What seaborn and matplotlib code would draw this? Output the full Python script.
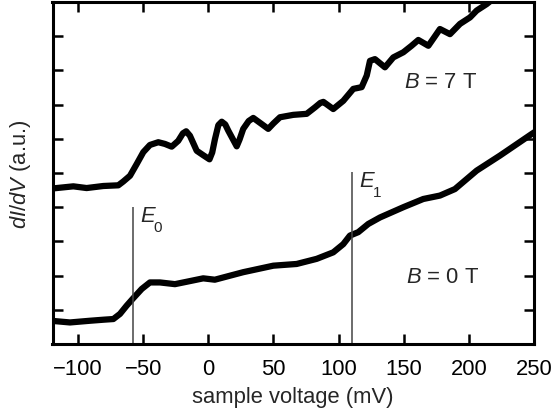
import numpy as np
import pandas as pd
import matplotlib
matplotlib.use("Agg")
import matplotlib.pyplot as plt
import seaborn as sns

# ---- data ----
x_7T = [-121.5, -103.6, -93.4, -80.6, -69.1, -65.3, -60.1, -55.0, -49.9, -44.8,
        -38.4, -33.3, -28.1, -23.1, -19.5, -17.0, -14.1, -8.9, -3.9, 0.9, 3.0, 5.1,
        7.7, 10.3, 13.0, 15.3, 21.8, 24.0, 26.8, 31.0, 34.5, 41.0, 46.0, 50.0, 55.0, 65.2,
        75.5, 81.9, 86.0, 88.3, 95.9, 103.6, 111.3, 117.7, 121.6, 124.1, 127.9,
        135.6, 142.0, 149.7, 156.0, 161.2, 168.9, 174.0, 177.8, 185.5, 193.2, 200.9, 206.0,
        213.7, 218.5]
y_7T = [4.54, 4.61, 4.56, 4.62, 4.64, 4.75, 4.92, 5.26, 5.61, 5.82,
        5.90, 5.85, 5.77, 5.94, 6.16, 6.22, 6.09, 5.65, 5.52, 5.40, 5.60, 5.99,
        6.40, 6.50, 6.42, 6.24, 5.78, 5.98, 6.29, 6.52, 6.61, 6.43, 6.29, 6.45, 6.63, 6.70,
        6.73, 6.92, 7.05, 7.08, 6.87, 7.11, 7.46, 7.51, 7.85, 8.28, 8.33,
        8.09, 8.38, 8.53, 8.72, 8.89, 8.72, 9.00, 9.21, 9.06, 9.36, 9.55, 9.75,
        9.94, 10.09]

x_0T = [-121.0, -106.2, -90.8, -80.6, -72.9, -67.8, -62.7, -57.6, -51.1, -44.8,
        -37.1, -25.6, -16.6, -3.9, 5.0, 26.8, 49.9, 67.8, 83.2, 95.9,
        103.6, 108.7, 115.1, 122.8, 131.8, 149.7, 165.0, 177.8, 189.3, 206.0,
        223.9, 248.2, 251.0]
y_0T = [0.68, 0.63, 0.68, 0.71, 0.73, 0.88, 1.12, 1.34, 1.61, 1.80,
        1.80, 1.75, 1.82, 1.92, 1.88, 2.10, 2.29, 2.34, 2.49, 2.68,
        2.92, 3.17, 3.27, 3.51, 3.70, 4.00, 4.24, 4.34, 4.53, 5.07,
        5.51, 6.14, 6.21]

x_ticks = [-100, -50, 0, 50, 100, 150, 200, 250]
y_ticks = [1, 2, 3, 4, 5, 6, 7, 8, 9]

E0_x, E0_top = -57.6, 4.0
E1_x, E1_top = 110.5, 5.03

# ---- style ----
sns.set_theme(style="ticks")
plt.rcParams["font.family"] = ["Liberation Sans", "DejaVu Sans"]
plt.rcParams["mathtext.fontset"] = "custom"
plt.rcParams["mathtext.rm"] = "Liberation Sans"
plt.rcParams["mathtext.it"] = "Liberation Sans:italic"
plt.rcParams["mathtext.default"] = "it"

fig = plt.figure(figsize=(5.56, 4.14), dpi=100)
ax = fig.add_axes([52.5 / 556, 69 / 414, (534 - 52.5) / 556, (411 - 69) / 414])

df7 = pd.DataFrame({"V": x_7T, "G": y_7T})
df0 = pd.DataFrame({"V": x_0T, "G": y_0T})
sns.lineplot(data=df7, x="V", y="G", ax=ax, color="black", lw=4.5, sort=False,
             solid_joinstyle="round", solid_capstyle="round")
sns.lineplot(data=df0, x="V", y="G", ax=ax, color="black", lw=4.5, sort=False,
             solid_joinstyle="round", solid_capstyle="round")

ax.vlines([E0_x], 0, E0_top, color="#444444", lw=1.1)
ax.vlines([E1_x], 0, E1_top, color="#444444", lw=1.1)

fs = 15.8
ax.text(-52.5, 3.6, "E", fontsize=fs, fontstyle="italic", ha="left", va="baseline")
ax.text(-42.0, 3.62, "0", fontsize=11, ha="left", va="top")
ax.text(115.9, 4.63, "E", fontsize=fs, fontstyle="italic", ha="left", va="baseline")
ax.text(126.5, 4.65, "1", fontsize=11, ha="left", va="top")
ax.text(150.2, 7.69, r"$B$ = 7 T", fontsize=fs, ha="left", va="center")
ax.text(151.7, 1.96, r"$B$ = 0 T", fontsize=fs, ha="left", va="center")

ax.set_xlim(-119.6, 250)
ax.set_ylim(0, 10)
ax.set_xticks(x_ticks)
ax.set_yticks(y_ticks)
ax.set_yticklabels([])
ax.tick_params(axis="both", direction="in", top=True, right=True,
               length=7, width=1.8, labelsize=fs, pad=10, colors="black")
for s in ax.spines.values():
    s.set_linewidth(2.2)
    s.set_color("black")
    s.set_visible(True)

ax.set_xlabel("sample voltage (mV)", fontsize=fs, labelpad=5)
ax.set_ylabel(r"$dI/dV$ (a.u.)", fontsize=fs, labelpad=4)

fig.savefig("out.png", dpi=100)
